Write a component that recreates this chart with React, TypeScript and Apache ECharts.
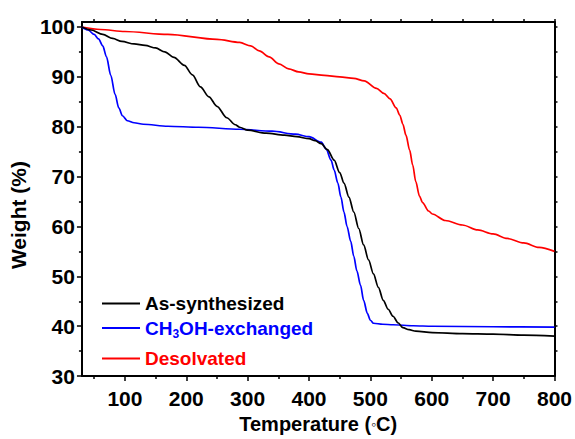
import React, { useEffect, useRef } from "react";
import * as echarts from "echarts";

const asT = [30, 45, 64, 80, 95, 115, 133, 150, 165, 180, 197, 210, 223, 237, 250, 266, 280, 287, 300, 330, 360, 380, 400, 410, 420, 430, 441, 450, 457, 465, 473, 481, 489, 497, 505, 513, 521, 529, 537, 545, 553, 563, 574, 601, 650, 700, 750, 800];
const asW = [100, 99.4, 98.5, 97.7, 97.1, 96.6, 96.3, 95.8, 95.0, 93.9, 92.3, 90.4, 88.0, 86.0, 84.1, 81.8, 80.4, 79.9, 79.3, 78.7, 78.3, 78.0, 77.6, 77.2, 76.6, 75.4, 73.3, 70.8, 68.7, 65.9, 62.9, 59.6, 56.3, 53.3, 50.5, 47.8, 45.2, 43.4, 42.0, 40.7, 39.7, 39.3, 39.0, 38.7, 38.5, 38.4, 38.2, 38.0];

const meT = [30, 40, 50, 57, 64, 70, 77, 84, 90, 96, 104, 115, 130, 170, 220, 287, 340, 378, 400, 420, 428, 436, 441, 447, 452, 457, 462, 468, 473, 478, 484, 489, 495, 500, 505, 520, 537, 570, 601, 700, 800];
const meW = [100, 99.4, 98.5, 97.6, 96.2, 94, 90.3, 86.5, 83.8, 82.2, 81.2, 80.8, 80.5, 80.1, 79.9, 79.5, 79.1, 78.5, 78.0, 76.9, 75.5, 73.3, 71.3, 68.7, 65.9, 62.9, 60, 57, 54, 51.1, 48.2, 45.2, 42.6, 41.2, 40.6, 40.4, 40.3, 40.1, 40.0, 39.9, 39.8];

const deT = [30, 60, 100, 170, 250, 287, 305, 319, 335, 351, 367, 383, 400, 425, 450, 473, 490, 510, 522, 532, 542, 548, 553, 558, 564, 569, 574, 580, 585, 595, 601, 622, 650, 675, 700, 723, 750, 775, 800];
const deW = [100, 99.5, 99.1, 98.5, 97.5, 96.9, 96.2, 95.2, 94.0, 92.6, 91.6, 91.0, 90.6, 90.3, 90.0, 89.7, 89.2, 87.7, 86.7, 85.6, 83.8, 82.3, 80.5, 78.3, 75.3, 72.3, 69, 66.1, 64.8, 63.1, 62.5, 61.2, 60.3, 59.3, 58.5, 57.6, 56.7, 55.8, 55.0];

const xMajor = [100, 200, 300, 400, 500, 600, 700, 800];
const xMinor = [50, 150, 250, 350, 450, 550, 650, 750];
const xTop = [50, 100, 150, 200, 250, 300, 350, 400, 450, 500, 550, 600, 650, 700, 750, 800];
const yMajor = [30, 40, 50, 60, 70, 80, 90, 100];
const yMinor = [35, 45, 55, 65, 75, 85, 95];
const yRight = [35, 40, 45, 50, 55, 60, 65, 70, 75, 80, 85, 90, 95, 100];

const names = ["As-synthesized", "CH3OH-exchanged", "Desolvated"];
const colors = ["#000000", "#0000ff", "#ff0000"];

const FONT = "'Liberation Sans', Arial, sans-serif";

function pairs(t: number[], w: number[]) {
  return t.map((v, i) => [v, w[i]]);
}

export default function App() {
  const ref = useRef<HTMLDivElement>(null);
  useEffect(() => {
    if (!ref.current) return;
    const chart = echarts.init(ref.current, null, { renderer: "svg" });
    const xBase = { type: "value", min: 30, max: 800, splitLine: { show: false }, gridIndex: 0 };
    const yBase = { type: "value", min: 30, max: 101, splitLine: { show: false }, gridIndex: 0 };
    const lineS = { color: "#000", width: 2 };
    const tickS = { color: "#000", width: 1.5 };
    const LF = 19;
    const legendRow = (i: number, top: number) => ({
      data: [names[i]],
      left: 102,
      top,
      padding: 0,
      icon: "rect",
      itemWidth: 38,
      itemHeight: 2,
      textStyle: { color: colors[i], fontSize: LF, fontWeight: "bold", fontFamily: FONT },
      ...(i === 1
        ? {
            formatter: () => "{n|CH}{s|3}{n|OH-exchanged}",
            textStyle: {
              color: colors[i],
              fontFamily: FONT,
              rich: {
                n: { fontSize: LF, fontWeight: "bold", color: colors[i], fontFamily: FONT, lineHeight: 22 },
                s: { fontSize: 12, fontWeight: "bold", color: colors[i], fontFamily: FONT, lineHeight: 22, padding: [12, 0, 0, 0] },
              },
            },
          }
        : {}),
    });
    const option: any = {
      animation: false,
      backgroundColor: "#ffffff",
      grid: { left: 73, right: 19, top: 22, bottom: 55, containLabel: false },
      legend: [legendRow(0, 294), legendRow(1, 316), legendRow(2, 349)],
      xAxis: [
        {
          ...xBase,
          position: "bottom",
          minInterval: 100,
          maxInterval: 100,
          splitNumber: 8,
          axisLine: { lineStyle: lineS },
          axisTick: { show: true, length: 5, lineStyle: tickS, customValues: xMajor },
          axisLabel: { customValues: xMajor, color: "#000", fontSize: 21, fontWeight: "bold", fontFamily: FONT, margin: 12 },
          name: "{a|Temperature (}{b|◦}{a|C)}",
          nameLocation: "middle",
          nameGap: 32,
          nameTextStyle: {
            rich: {
              a: { fontSize: 20, fontWeight: "bold", color: "#000", fontFamily: FONT },
              b: { fontSize: 14, fontWeight: "normal", color: "#000", fontFamily: FONT },
            },
          },
        },
        {
          ...xBase,
          position: "bottom",
          axisLine: { show: false },
          axisTick: { show: true, length: 3, lineStyle: tickS, customValues: xMinor },
          axisLabel: { show: false },
        },
        {
          ...xBase,
          position: "top",
          axisLine: { lineStyle: lineS },
          axisTick: { show: true, length: 3, lineStyle: tickS, customValues: xTop },
          axisLabel: { show: false },
        },
      ],
      yAxis: [
        {
          ...yBase,
          position: "left",
          axisLine: { lineStyle: lineS },
          axisTick: { show: true, length: 5, lineStyle: tickS, customValues: yMajor },
          axisLabel: { customValues: yMajor, color: "#000", fontSize: 21, fontWeight: "bold", fontFamily: FONT, margin: 7 },
          name: "Weight (%)",
          nameLocation: "middle",
          nameGap: 37,
          nameTextStyle: { fontSize: 21, fontWeight: "bold", color: "#000", fontFamily: FONT, padding: [0, 32, 0, 0] },
        },
        {
          ...yBase,
          position: "left",
          axisLine: { show: false },
          axisTick: { show: true, length: 3, lineStyle: tickS, customValues: yMinor },
          axisLabel: { show: false },
        },
        {
          ...yBase,
          position: "right",
          axisLine: { lineStyle: lineS },
          axisTick: { show: true, length: 3, lineStyle: tickS, customValues: yRight },
          axisLabel: { show: false },
        },
      ],
      series: [
        { t: asT, w: asW },
        { t: meT, w: meW },
        { t: deT, w: deW },
      ].map((s, i) => ({
        name: names[i],
        type: "line",
        xAxisIndex: 0,
        yAxisIndex: 0,
        data: pairs(s.t, s.w),
        showSymbol: false,
        symbol: "none",
        smooth: 0.3,
        smoothMonotone: "x",
        lineStyle: { color: colors[i], width: 1.7 },
        itemStyle: { color: colors[i] },
        z: 3 - i,
      })),
    };
    chart.setOption(option);
    return () => chart.dispose();
  }, []);
  return <div ref={ref} style={{ position: "fixed", left: 0, top: 0, width: 575, height: 439 }} />;
}
